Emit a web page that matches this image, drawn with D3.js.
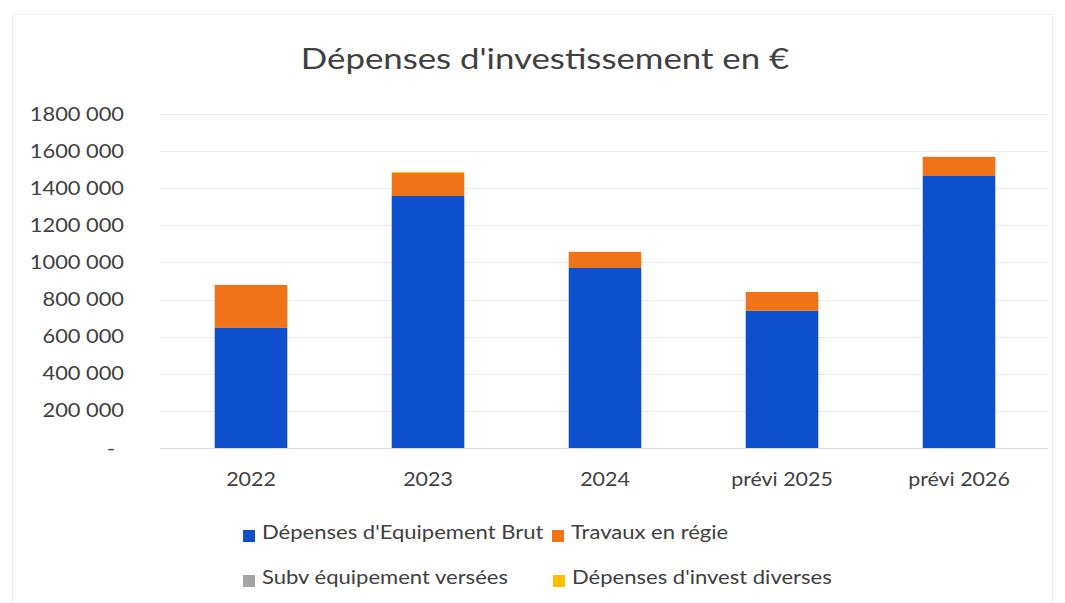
<!DOCTYPE html>
<html><head><meta charset="utf-8">
<script src="https://cdn.jsdelivr.net/npm/d3@7"></script>
<style>body{margin:0;background:#fff;}svg{display:block;font-family:Lato,"Open Sans",sans-serif;}</style>
</head><body>
<script>
const categories = ["2022","2023","2024","prévi 2025","prévi 2026"];
const seriesNames = ["Dépenses d'Equipement Brut","Travaux en régie","Subv équipement versées","Dépenses d'invest diverses"];
const equipementBrut = [647000,1358000,970000,739000,1466000];
const travauxRegie = [232000,125000,87000,102000,103000];
const subvEquipement = [0,0,0,0,0];
const investDiverses = [0,5000,0,0,0];
const yTicks = [0,200000,400000,600000,800000,1000000,1200000,1400000,1600000,1800000];
const colors = ["#0d4fcc","#f07219","#a5a5a5","#ffc000"];

const W=1065,H=603;
const svg=d3.select("body").append("svg").attr("width",W).attr("height",H);
svg.append("rect").attr("x",12.5).attr("y",14.5).attr("width",1040).attr("height",600).attr("fill","none").attr("stroke","#eeeeee");

function txt(sel, x, y, anchor, size, sx, t){
  return sel.append("g").attr("transform",`translate(${x},${y}) scale(${sx},1)`)
    .append("text").attr("x",0).attr("y",0).attr("text-anchor",anchor)
    .attr("font-size",size).attr("fill","#404040").text(t);
}

const x=d3.scaleBand().domain(categories).range([162.5,1047.5]).paddingInner(0.59).paddingOuter(0.295);
const y=d3.scaleLinear().domain([0,1800000]).range([448,114]);

txt(svg,545,69,"middle",29,1.2,"Dépenses d'investissement en €");

// grid
svg.append("g").selectAll("line").data(yTicks).join("line")
 .attr("x1",160).attr("x2",1048).attr("y1",d=>Math.round(y(d))+0.5).attr("y2",d=>Math.round(y(d))+0.5)
 .attr("stroke",d=>d===0?"#d9d9d9":"#ececec").attr("stroke-width",1);

// y labels
const fmt=d=>d===0?"-":d3.format(",")(d).replace(/,(?=\d{3}$)/," ").replace(/,/g,"");
const yl=svg.append("g");
yTicks.forEach(d=>txt(yl, d===0?115:124, y(d)+6.5, "end", 18.5, 1.18, fmt(d)));

// stack
const rows=categories.map((c,i)=>({cat:c,s0:equipementBrut[i],s1:travauxRegie[i],s2:subvEquipement[i],s3:investDiverses[i]}));
const stack=d3.stack().keys(["s0","s1","s2","s3"])(rows);
svg.append("g").selectAll("g").data(stack).join("g").attr("fill",(d,i)=>colors[i])
 .selectAll("rect").data(d=>d).join("rect")
 .attr("x",d=>x(d.data.cat)).attr("width",x.bandwidth())
 .attr("y",d=>y(d[1])).attr("height",d=>Math.max(0,y(d[0])-y(d[1])));

// x labels
const xl=svg.append("g");
categories.forEach(c=>txt(xl, x(c)+x.bandwidth()/2, 486, "middle", 20, 1.07, c));

// legend
const legPos=[[243,539],[552,539],[243,584],[553,584]];
const lg=svg.append("g");
seriesNames.forEach((n,i)=>{
  lg.append("rect").attr("x",legPos[i][0]).attr("y",legPos[i][1]-9).attr("width",12).attr("height",12).attr("fill",colors[i]);
  txt(lg, legPos[i][0]+19, legPos[i][1], "start", 19.5, 1.13, n);
});
</script>
</body></html>
